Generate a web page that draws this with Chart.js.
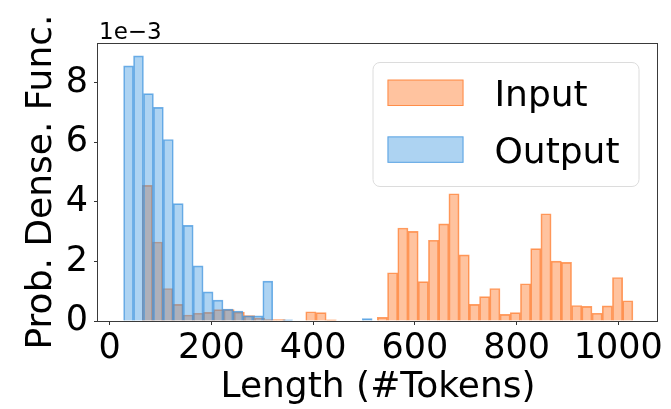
<!DOCTYPE html>
<html>
<head>
<meta charset="utf-8">
<script src="https://cdn.jsdelivr.net/npm/chart.js@4/dist/chart.umd.min.js"></script>
<style>
  html, body { margin: 0; padding: 0; background: #ffffff; }
  canvas { display: block; }
</style>
</head>
<body>
<canvas id="hist" width="671" height="409"></canvas>
<script>
// Histogram bin centres (tokens) and probability densities (in units of 1e-3)
const inputBins = [73.9, 94.0, 114.1, 134.2, 154.3, 174.4, 194.5, 214.6, 234.7, 254.8,
  274.9, 295.0, 315.1, 335.2, 355.3, 375.4, 395.5, 415.6, 435.7, 455.8,
  475.9, 496.0, 516.1, 536.2, 556.3, 576.4, 596.5, 616.6, 636.7, 656.8,
  676.9, 697.0, 717.1, 737.2, 757.3, 777.4, 797.5, 817.6, 837.7, 857.8,
  877.9, 898.0, 918.1, 938.2, 958.3, 978.4, 998.5, 1018.6];
const inputDensity = [4.55, 2.65, 1.09, 0.56, 0.20, 0.26, 0.29, 0.38, 0.38, 0.30,
  0.18, 0.10, 0.05, 0.05, 0, 0, 0.31, 0.28, 0.04, 0,
  0, 0, 0, 0.12, 1.62, 3.12, 3.01, 1.32, 2.71, 3.26,
  4.27, 2.22, 0.56, 0.82, 1.09, 0.22, 0.28, 1.25, 2.43, 3.60,
  2.01, 1.97, 0.52, 0.49, 0.26, 0.51, 1.46, 0.68];

const outputBins = [37.1, 56.6, 76.2, 95.7, 115.3, 134.8, 154.4, 173.9, 193.5, 213.0,
  232.6, 252.1, 271.7, 291.2, 310.8, 330.3, 349.9, 369.4, 389.0, 408.5,
  428.1, 447.6, 467.2, 486.7, 506.3];
const outputDensity = [8.56, 8.90, 7.63, 7.17, 6.09, 3.94, 3.21, 1.85, 0.98, 0.70,
  0.40, 0.33, 0.17, 0.17, 1.34, 0, 0.04, 0, 0, 0,
  0, 0, 0, 0, 0.08];

const seriesNames = ['Input', 'Output'];
const xTickValues = [0, 200, 400, 600, 800, 1000];
const yTickValues = [0, 2, 4, 6, 8];
const yScaleLabel = '1e\u22123';

const FONT = "'DejaVu Sans', 'Liberation Sans', sans-serif";
const X_MIN = -23, X_MAX = 1078, Y_MAX = 9.33;

const ORANGE_FILL = 'rgba(255,125,45,0.46)';
const ORANGE_EDGE = 'rgba(255,120,40,0.72)';
const BLUE_FILL = 'rgba(60,150,225,0.42)';
const BLUE_EDGE = 'rgba(60,145,222,0.72)';

const toPoints = (xs, ys) => xs.map((x, i) => ({ x: x, y: ys[i] }));

// Full box around the plotting area
const framePlugin = {
  id: 'frame',
  afterDatasetsDraw(chart) {
    const { ctx, chartArea: a } = chart;
    ctx.save();
    ctx.strokeStyle = '#3a3a3a';
    ctx.lineWidth = 1;
    const l = Math.round(a.left) - 0.5, t = Math.round(a.top) + 0.5;
    const r = Math.round(a.right) - 0.5, b = Math.round(a.bottom) + 0.5;
    ctx.strokeRect(l, t, r - l, b - t);
    ctx.restore();
  }
};

// Multiplier shown above the value axis
const offsetLabelPlugin = {
  id: 'offsetLabel',
  afterDraw(chart) {
    const { ctx, chartArea: a } = chart;
    ctx.save();
    ctx.font = '23px ' + FONT;
    ctx.fillStyle = '#000';
    ctx.textAlign = 'left';
    ctx.textBaseline = 'alphabetic';
    ctx.fillText(yScaleLabel, a.left + 1, a.top - 4);
    ctx.restore();
  }
};

// Framed legend inside the upper right of the plot
const boxLegendPlugin = {
  id: 'boxLegend',
  afterDraw(chart) {
    const { ctx, chartArea: a } = chart;
    const w = 266, h = 124;
    const x0 = a.right - 19.5 - w, y0 = a.top + 19;
    ctx.save();
    ctx.beginPath();
    ctx.roundRect(x0 + 0.5, y0 + 0.5, w, h, 7);
    ctx.fillStyle = 'rgba(255,255,255,0.8)';
    ctx.fill();
    ctx.strokeStyle = '#dcdcdc';
    ctx.lineWidth = 1;
    ctx.stroke();
    const size = 36;
    ctx.font = size + 'px ' + FONT;
    ctx.textBaseline = 'alphabetic';
    chart.data.datasets.forEach((ds, i) => {
      const cy = y0 + 30.8 + i * 56.8;
      const px = x0 + 15, pw = 76, ph = 26.4;
      ctx.fillStyle = ds.backgroundColor;
      ctx.fillRect(px, cy - ph / 2, pw, ph);
      ctx.strokeStyle = ds.borderColor;
      ctx.strokeRect(px + 0.5, cy - ph / 2 + 0.5, pw - 1, ph - 1);
      ctx.fillStyle = '#000';
      ctx.fillText(ds.label, x0 + 122, cy + 0.365 * size);
    });
    ctx.restore();
  }
};

const tickFont = { family: FONT, size: 35 };
const titleFont = { family: FONT, size: 36 };

const binScale = {
  type: 'linear', min: X_MIN, max: X_MAX, offset: false,
  grid: { offset: false }
};

new Chart(document.getElementById('hist'), {
  type: 'bar',
  data: {
    datasets: [
      {
        label: seriesNames[0],
        data: toPoints(inputBins, inputDensity),
        xAxisID: 'xIn', yAxisID: 'y',
        backgroundColor: ORANGE_FILL, borderColor: ORANGE_EDGE, borderWidth: 1,
        barPercentage: 1, categoryPercentage: 1, grouped: false, order: 2
      },
      {
        label: seriesNames[1],
        data: toPoints(outputBins, outputDensity),
        xAxisID: 'x', yAxisID: 'y',
        backgroundColor: BLUE_FILL, borderColor: BLUE_EDGE, borderWidth: 1,
        barPercentage: 1, categoryPercentage: 1, grouped: false, order: 1
      }
    ]
  },
  options: {
    responsive: false,
    animation: false,
    devicePixelRatio: 1,
    layout: { padding: { top: 43, right: 13, left: 0, bottom: 0 } },
    plugins: { legend: { display: false }, tooltip: { enabled: false } },
    scales: {
      x: Object.assign({}, binScale, {
        position: 'bottom',
        afterBuildTicks: s => { s.ticks = xTickValues.map(v => ({ value: v })); },
        afterFit: s => { s.height = 88; },
        border: { display: false },
        grid: { offset: false, drawOnChartArea: false, drawTicks: true, tickLength: 4, color: '#333', lineWidth: 1 },
        ticks: { font: tickFont, color: '#000', padding: 3, maxRotation: 0, autoSkip: false,
                 callback: v => String(v) },
        title: { display: true, text: 'Length (#Tokens)', font: titleFont, color: '#000',
                 padding: { top: 0, bottom: 0 } }
      }),
      xIn: Object.assign({}, binScale, { display: false }),
      y: {
        type: 'linear', min: 0, max: Y_MAX,
        afterBuildTicks: s => { s.ticks = yTickValues.map(v => ({ value: v })); },
        afterFit: s => { s.width = 98; },
        border: { display: false },
        grid: { drawOnChartArea: false, drawTicks: true, tickLength: 4, color: '#333', lineWidth: 1 },
        ticks: { font: tickFont, color: '#000', padding: 6, callback: v => String(v) },
        title: { display: true, text: 'Prob. Dense. Func.', font: titleFont, color: '#000',
                 padding: { top: 20, bottom: 0 } }
      }
    }
  },
  plugins: [framePlugin, offsetLabelPlugin, boxLegendPlugin]
});
</script>
</body>
</html>
